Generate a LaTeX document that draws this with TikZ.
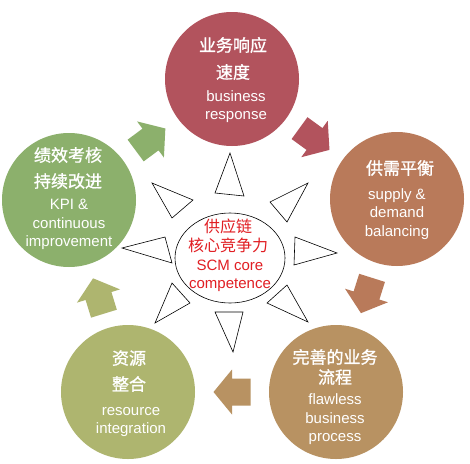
\documentclass[tikz,border=0pt]{standalone}
\usepackage{fontspec}
\setmainfont{Liberation Sans}
\newfontfamily\cjk{Noto Sans CJK SC}
\newfontfamily\cjkb[FakeBold=1.2]{Noto Sans CJK SC}
\usetikzlibrary{calc,shapes.geometric}
\definecolor{cTop}{RGB}{178,83,93}
\definecolor{cRight}{RGB}{185,122,90}
\definecolor{cBR}{RGB}{184,146,98}
\definecolor{cBL}{RGB}{174,181,111}
\definecolor{cLeft}{RGB}{140,176,108}
\definecolor{cRed}{RGB}{225,30,35}
\begin{document}
\begin{tikzpicture}[x=1pt,y=-1pt,
  bigcirc/.style={circle,minimum size=134pt,inner sep=0pt,draw=none},
  spike/.style={draw=black,line width=0.6pt,fill=white,line join=miter},
  zh/.style={font=\cjkb\fontsize{17}{17}\selectfont,text=white,anchor=base,inner sep=0pt},
  en/.style={font=\fontsize{15}{15}\selectfont,text=white,anchor=base,inner sep=0pt},
  czh/.style={zh,text=cRed,font=\cjk\fontsize{16}{16}\selectfont},
  cen/.style={en,text=cRed},
  blockarrow/.style={draw=none}
]
\useasboundingbox (0,0) rectangle (470,463);
\fill[white] (0,0) rectangle (470,463);

% big circles
\node[bigcirc,fill=cTop]   (top)   at (232,79)  {};
\node[bigcirc,fill=cRight] (right) at (397,199) {};
\node[bigcirc,fill=cBR]    (br)    at (336,392) {};
\node[bigcirc,fill=cBL]    (bl)    at (128,392) {};
\node[bigcirc,fill=cLeft]  (left)  at (69,200)  {};

% block arrows
\def\arrowpath{(-18.5pt,-13.5pt) -- (0pt,-13.5pt) -- (0pt,-22.5pt) -- (18.5pt,0pt) -- (0pt,22.5pt) -- (0pt,13.5pt) -- (-18.5pt,13.5pt) -- cycle}
\fill[blockarrow,cTop,shift={($(top)!0.5!(right)$)},rotate=-36] \arrowpath;
\fill[blockarrow,cRight,shift={($(right)!0.5!(br)$)},rotate=-107.5] \arrowpath;
\fill[blockarrow,cBR,shift={($(br)!0.5!(bl)$)},rotate=-180] \arrowpath;
\fill[blockarrow,cBL,shift={($(bl)!0.5!(left)$)},rotate=107.1] \arrowpath;
\fill[blockarrow,cLeft,shift={($(left)!0.5!(top)$)},rotate=36.6] \arrowpath;

% sun spikes
\draw[spike] (230,153) -- (215,193) -- (244,196) -- cycle;
\draw[spike] (152,183) -- (193,200) -- (172,218) -- cycle;
\draw[spike] (308,183) -- (270,202) -- (287,222) -- cycle;
\draw[spike] (122,248) -- (165,237) -- (172,263) -- cycle;
\draw[spike] (337,253) -- (295,237) -- (294,265) -- cycle;
\draw[spike] (155,323) -- (172,283) -- (190,303) -- cycle;
\draw[spike] (308,322) -- (267,303) -- (287,285) -- cycle;
\draw[spike] (233,352) -- (215,312) -- (243,312) -- cycle;

% center
\node[draw=black,line width=0.6pt,fill=white,ellipse,minimum width=110pt,minimum height=90pt,inner sep=0pt] (core) at (230,258) {};

% texts
\node[zh] (t1a) at (233,51.5) {业务响应};
\node[zh] (t1b) at (233,78.5) {速度};
\node[en] (t1c) at (236,101) {business};
\node[en] (t1d) at (236,119) {response};

\node[zh] (t2a) at (400,174.5) {供需平衡};
\node[en] (t2b) at (397,199) {supply \&};
\node[en] (t2c) at (397,217) {demand};
\node[en] (t2d) at (397,236) {balancing};

\node[zh] (t3a) at (335,363.5) {完善的业务};
\node[zh] (t3b) at (335,383.5) {流程};
\node[en] (t3c) at (335,404) {flawless};
\node[en] (t3d) at (335,423) {business};
\node[en] (t3e) at (335,441) {process};

\node[zh] (t4a) at (129,364.5) {资源};
\node[zh] (t4b) at (129,390.5) {整合};
\node[en] (t4c) at (131,415) {resource};
\node[en] (t4d) at (131,433) {integration};

\node[zh] (t5a) at (68,161.5) {绩效考核};
\node[zh] (t5b) at (68,187.5) {持续改进};
\node[en] (t5c) at (69,209) {KPI \&};
\node[en] (t5d) at (69,228) {continuous};
\node[en] (t5e) at (69,246) {improvement};

\node[czh] (c1) at (228,232) {供应链};
\node[czh] (c2) at (228,251) {核心竞争力};
\node[cen] (c3) at (230,270) {SCM core};
\node[cen] (c4) at (230,288) {competence};
\end{tikzpicture}
\end{document}
